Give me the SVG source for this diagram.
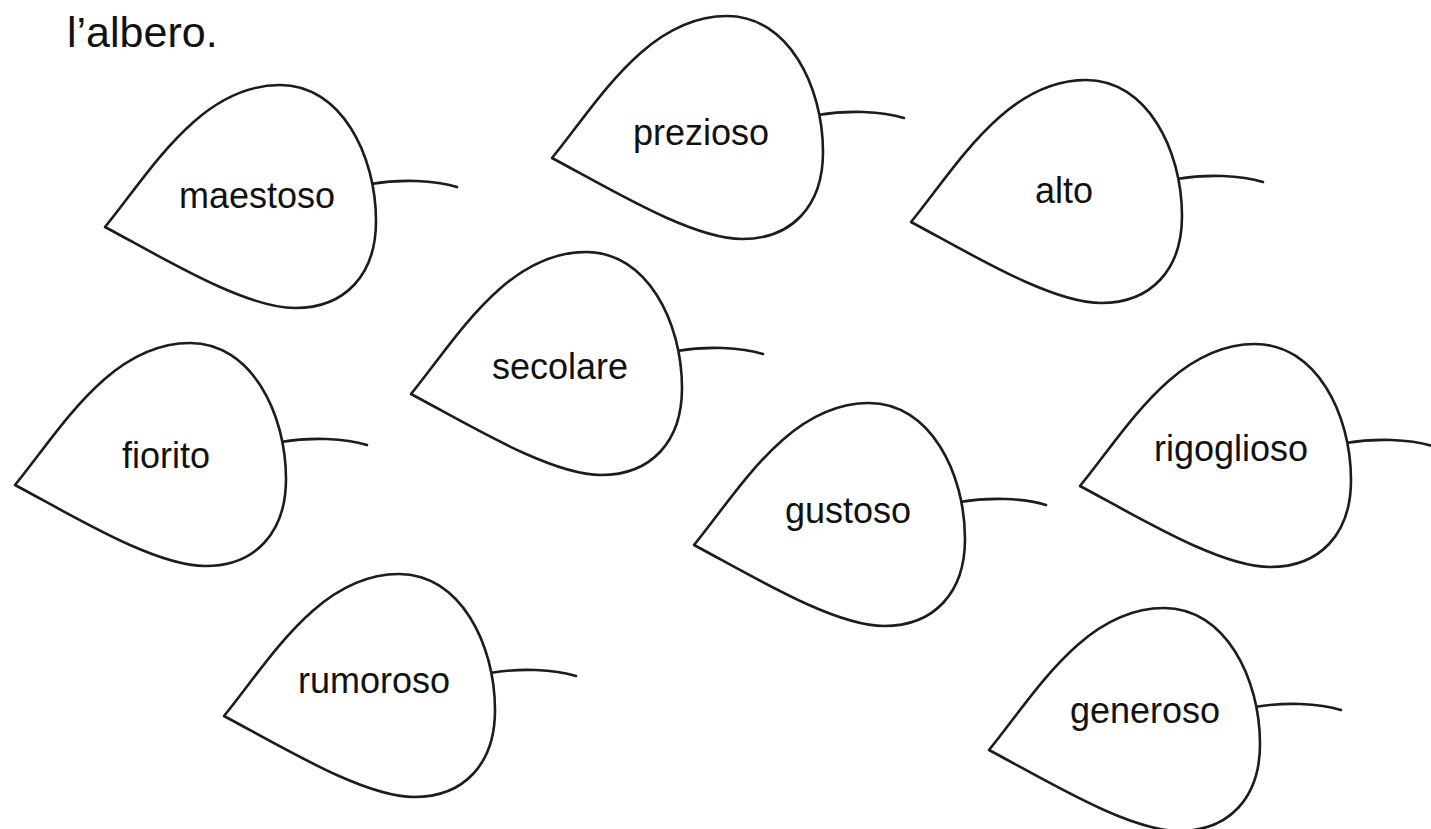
<svg xmlns="http://www.w3.org/2000/svg" xmlns:xlink="http://www.w3.org/1999/xlink" width="1431" height="829" viewBox="0 0 1431 829">
<style>
.leaf{fill:#fff;stroke:#1c1c1c;stroke-width:2.6;stroke-linejoin:round}
.stem{fill:none;stroke:#1c1c1c;stroke-width:2.6;stroke-linecap:round}
.lbl{font-family:"Liberation Sans",Arial,sans-serif;font-size:36px;fill:#111;text-anchor:middle}
.title{font-family:"Liberation Sans",Arial,sans-serif;font-size:43px;fill:#111}
</style>
<defs>
<path id="leafShape" d="M0,0 C45,-55 95,-142 175,-142 C236,-142 271,-72 271,-6 C271,48 240,81 190,81 C140,81 60,32 0,0 Z"/>
<path id="stemShape" d="M266,-43 C295,-48 330,-47 352,-40"/>
</defs>
<rect width="1431" height="829" fill="#fff"/>
<text class="title" x="67" y="47">l’albero.</text>
<g id="connectors">
<use xlink:href="#stemShape" class="stem" transform="translate(105,227)"/>
<use xlink:href="#stemShape" class="stem" transform="translate(552,158)"/>
<use xlink:href="#stemShape" class="stem" transform="translate(911,222)"/>
<use xlink:href="#stemShape" class="stem" transform="translate(411,394)"/>
<use xlink:href="#stemShape" class="stem" transform="translate(15,485)"/>
<use xlink:href="#stemShape" class="stem" transform="translate(694,545)"/>
<use xlink:href="#stemShape" class="stem" transform="translate(1080,486)"/>
<use xlink:href="#stemShape" class="stem" transform="translate(224,716)"/>
<use xlink:href="#stemShape" class="stem" transform="translate(989,750)"/>
</g>
<g id="leaf-maestoso"><use xlink:href="#leafShape" class="leaf" transform="translate(105,227)"/><text class="lbl" x="257" y="208">maestoso</text></g>
<g id="leaf-prezioso"><use xlink:href="#leafShape" class="leaf" transform="translate(552,158)"/><text class="lbl" x="701" y="145">prezioso</text></g>
<g id="leaf-alto"><use xlink:href="#leafShape" class="leaf" transform="translate(911,222)"/><text class="lbl" x="1064" y="203">alto</text></g>
<g id="leaf-secolare"><use xlink:href="#leafShape" class="leaf" transform="translate(411,394)"/><text class="lbl" x="560" y="379">secolare</text></g>
<g id="leaf-fiorito"><use xlink:href="#leafShape" class="leaf" transform="translate(15,485)"/><text class="lbl" x="166" y="468">fiorito</text></g>
<g id="leaf-gustoso"><use xlink:href="#leafShape" class="leaf" transform="translate(694,545)"/><text class="lbl" x="848" y="523">gustoso</text></g>
<g id="leaf-rigoglioso"><use xlink:href="#leafShape" class="leaf" transform="translate(1080,486)"/><text class="lbl" x="1231" y="461">rigoglioso</text></g>
<g id="leaf-rumoroso"><use xlink:href="#leafShape" class="leaf" transform="translate(224,716)"/><text class="lbl" x="374" y="693">rumoroso</text></g>
<g id="leaf-generoso"><use xlink:href="#leafShape" class="leaf" transform="translate(989,750)"/><text class="lbl" x="1145" y="723">generoso</text></g>
</svg>
